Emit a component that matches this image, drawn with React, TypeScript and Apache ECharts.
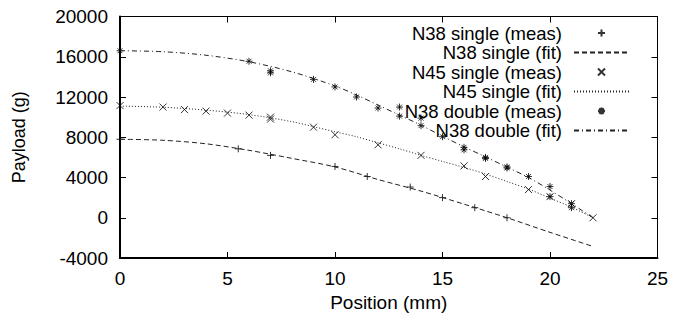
import React, { useEffect, useRef } from "react";
import * as echarts from "echarts";

// N38 single – measured
const n38sMeasX = [0, 5.5, 7, 10, 11.5, 13.5, 15, 16.5, 18];
const n38sMeasY = [7800, 6850, 6200, 5100, 4100, 3050, 2000, 1000, 0];
// N38 single – fit
const n38sFitX = [0, 2, 4, 6, 8, 10, 12, 14, 16, 18, 20, 22];
const n38sFitY = [7800, 7700, 7350, 6700, 5900, 5050, 3800, 2650, 1350, 0, -1450, -2850];

// N45 single – measured
const n45sMeasX = [0, 2, 3, 4, 5, 6, 7, 7, 9, 10, 12, 14, 16, 17, 19, 20, 21, 22];
const n45sMeasY = [11150, 11000, 10750, 10600, 10400, 10200, 10000, 9800, 9000, 8250, 7250, 6200, 5150, 4100, 2800, 2100, 1400, 0];
// N45 single – fit
const n45sFitX = [0, 2, 4, 6, 8, 9, 10, 11, 12, 13, 14, 15, 16, 17, 18, 19, 20, 21, 22];
const n45sFitY = [11100, 10980, 10700, 10250, 9550, 9050, 8550, 8050, 7450, 6850, 6200, 5600, 5000, 4350, 3600, 2850, 1950, 1050, 0];

// N38 double – measured
const n38dMeasX = [0, 6, 7, 7, 9, 10, 11, 12, 13, 13, 14, 14, 15, 16, 16, 17, 17, 18, 18, 19, 20, 20, 21, 21];
const n38dMeasY = [16600, 15550, 14600, 14400, 13750, 13000, 12000, 10900, 11000, 10100, 9900, 9150, 8050, 7000, 6750, 6000, 5900, 5050, 4950, 4100, 3100, 2100, 1400, 1000];
// N38 double – fit
const n38dFitX = [0, 2, 4, 6, 8, 10, 11, 12, 13, 14, 15, 16, 17, 18, 19, 20, 21, 22];
const n38dFitY = [16600, 16500, 16150, 15500, 14500, 13100, 12200, 11200, 10200, 9200, 8100, 7050, 6050, 5030, 4000, 2750, 1400, 0];

const seriesNames = [
  "N38 single (meas)",
  "N38 single (fit)",
  "N45 single (meas)",
  "N45 single (fit)",
  "N38 double (meas)",
  "N38 double (fit)",
];

const xTicks = { min: 0, max: 25, interval: 5 };
const yTicks = { min: -4000, max: 20000, interval: 4000 };

const pairs = (xs: number[], ys: number[]) => xs.map((x, i) => [x, ys[i]]);

const PLUS = "path://M0,5L10,5M5,0L5,10";
const CROSS = "path://M0,0L10,10M10,0L0,10";
const STAR = "path://M0,5L10,5M5,0L5,10M1.5,1.5L8.5,8.5M8.5,1.5L1.5,8.5";

const FONT = "'Liberation Sans', Arial, Helvetica, sans-serif";

export default function App() {
  const ref = useRef<HTMLDivElement>(null);
  useEffect(() => {
    if (!ref.current) return;
    const chart = echarts.init(ref.current, undefined, { renderer: "svg" });

    const scatter = (name: string, xs: number[], ys: number[], sym: string) => ({
      name,
      type: "scatter",
      data: pairs(xs, ys),
      symbol: sym,
      symbolSize: 7,
      itemStyle: { color: "none", borderColor: "#000", borderWidth: 1 },
      emphasis: { disabled: true },
    });
    const line = (name: string, xs: number[], ys: number[], dash: number[]) => ({
      name,
      type: "line",
      data: pairs(xs, ys),
      symbol: "none",
      smooth: 0.3,
      lineStyle: { color: "#222", width: 1, type: dash },
      itemStyle: { color: "#222" },
      emphasis: { disabled: true },
    });

    const axisCommon = {
      splitLine: { show: false },
      axisTick: { inside: true, length: 6, lineStyle: { color: "#000", width: 1 } },
    };

    const legendData = seriesNames.map((n, i) =>
      i % 2 === 1 ? { name: n, itemStyle: { opacity: 0 } } : { name: n }
    );

    chart.setOption({
      animation: false,
      textStyle: { fontFamily: FONT },
      grid: { left: 120, right: 15.5, top: 16.5, bottom: 62, containLabel: false },
      legend: {
        orient: "vertical",
        right: 38,
        top: 18.5,
        align: "right",
        itemWidth: 55,
        itemHeight: 7,
        itemGap: 0.5,
        selectedMode: false,
        data: legendData,
        textStyle: { fontFamily: FONT, fontSize: 18.5, lineHeight: 19, color: "#000", padding: [0, 7, 0, 0] },
      },
      xAxis: [
        {
          type: "value",
          ...xTicks,
          ...axisCommon,
          axisLine: { show: true, onZero: false, lineStyle: { color: "#000", width: 2 } },
          axisLabel: { fontSize: 19, color: "#000", margin: 11, fontFamily: FONT },
          name: "Position (mm)",
          nameLocation: "middle",
          nameGap: 30,
          nameTextStyle: { fontSize: 19, color: "#000", fontFamily: FONT },
        },
        {
          type: "value",
          position: "top",
          ...xTicks,
          ...axisCommon,
          axisLine: { show: true, onZero: false, lineStyle: { color: "#000", width: 1 } },
          axisLabel: { show: false },
        },
      ],
      yAxis: [
        {
          type: "value",
          ...yTicks,
          ...axisCommon,
          axisLine: { show: true, onZero: false, lineStyle: { color: "#000", width: 2 } },
          axisLabel: {
            fontSize: 19,
            color: "#000",
            margin: 12,
            fontFamily: FONT,
            formatter: (v: number) => String(v),
          },
          name: "Payload (g)",
          nameLocation: "middle",
          nameGap: 92,
          nameTextStyle: { fontSize: 18, color: "#000", fontFamily: FONT },
        },
        {
          type: "value",
          position: "right",
          ...yTicks,
          ...axisCommon,
          axisLine: { show: true, onZero: false, lineStyle: { color: "#000", width: 1 } },
          axisLabel: { show: false },
        },
      ],
      series: [
        scatter(seriesNames[0], n38sMeasX, n38sMeasY, PLUS),
        line(seriesNames[1], n38sFitX, n38sFitY, [5, 3]),
        scatter(seriesNames[2], n45sMeasX, n45sMeasY, CROSS),
        line(seriesNames[3], n45sFitX, n45sFitY, [1, 2]),
        scatter(seriesNames[4], n38dMeasX, n38dMeasY, STAR),
        line(seriesNames[5], n38dFitX, n38dFitY, [5, 3, 1, 3]),
      ],
    });
    return () => chart.dispose();
  }, []);
  return <div ref={ref} style={{ width: 673, height: 320, position: "absolute", left: 0, top: 0 }} />;
}
